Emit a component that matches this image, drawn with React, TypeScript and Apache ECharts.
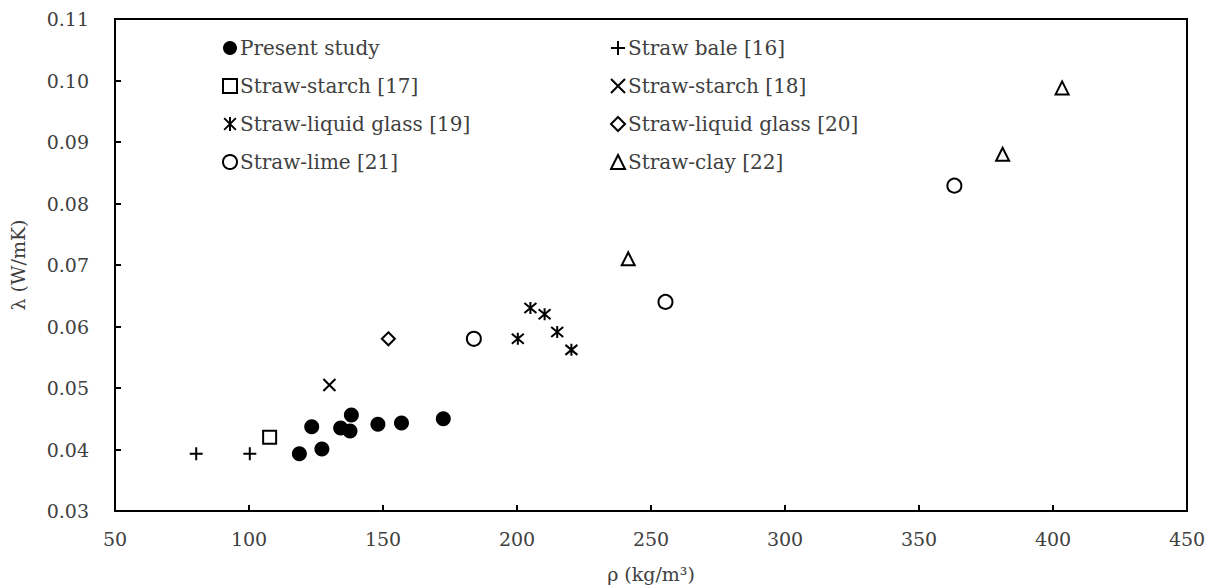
import React, { useEffect, useRef } from "react";
import * as echarts from "echarts";

// ---- data (x: density kg/m3, y: thermal conductivity W/mK) ----
const presentStudy = [
  [118.8, 0.0393], [127.2, 0.0401], [123.4, 0.0437], [134.2, 0.0435], [137.7, 0.043],
  [138.2, 0.0456], [148.1, 0.0441], [156.9, 0.0443], [172.5, 0.045],
];
const strawBale16 = [[80.3, 0.0393], [100.3, 0.0393]];
const strawStarch17 = [[107.7, 0.042]];
const strawStarch18 = [[130.0, 0.0505]];
const liquidGlass19 = [[200.3, 0.058], [205.0, 0.063], [210.3, 0.062], [215.0, 0.0591], [220.3, 0.0562]];
const liquidGlass20 = [[152.0, 0.058]];
const strawLime21 = [[183.9, 0.058], [255.4, 0.064], [363.2, 0.0829]];
const strawClay22 = [[241.5, 0.071], [381.2, 0.088], [403.4, 0.0988]];

const seriesNames = [
  "Present study", "Straw bale [16]", "Straw-starch [17]", "Straw-starch [18]",
  "Straw-liquid glass [19]", "Straw-liquid glass [20]", "Straw-lime [21]", "Straw-clay [22]",
];
const xAxisRange = [50, 450, 50];
const yAxisRange = [0.03, 0.11, 0.01];
const xAxisTitle = "ρ (kg/m³)";
const yAxisTitle = "λ (W/mK)";

const FONT = "DejaVu Serif";
const TEXT = "#404040";

const PLUS = "path://M5,0L5,10M0,5L10,5";
const CROSS = "path://M0,0L10,10M10,0L0,10";
const STAR = "path://M0,0L10,10M10,0L0,10M5,-1L5,11";

export default function App() {
  const ref = useRef<HTMLDivElement>(null);
  useEffect(() => {
    const chart = echarts.init(ref.current!, undefined, { renderer: "svg" });
    const hollow = { color: "#fff", borderColor: "#000", borderWidth: 2, opacity: 1 };
    const stroke = { color: "#000", borderColor: "#000", borderWidth: 2, opacity: 1 };
    const mk = (name: string, data: number[][], symbol: string, size: number, style: any) => ({
      type: "scatter",
      name,
      data,
      symbol,
      symbolSize: size,
      itemStyle: style,
      emphasis: { disabled: true },
    });
    const legendCommon = {
      orient: "vertical",
      itemWidth: 14,
      itemHeight: 14,
      itemGap: 18,
      textStyle: { fontFamily: FONT, fontSize: 20, color: TEXT, padding: [0, 0, 0, -2] },
      selectedMode: false,
    };
    chart.setOption({
      animation: false,
      grid: {
        left: 114, right: 28, top: 19, bottom: 75,
        show: true, borderColor: "#000", borderWidth: 2, backgroundColor: "transparent",
      },
      legend: [
        { ...legendCommon, left: 217, top: 33, data: [seriesNames[0], seriesNames[2], seriesNames[4], seriesNames[6]] },
        { ...legendCommon, left: 605, top: 33, data: [seriesNames[1], seriesNames[3], seriesNames[5], seriesNames[7]] },
      ],
      xAxis: {
        type: "value",
        min: xAxisRange[0], max: xAxisRange[1], interval: xAxisRange[2],
        name: xAxisTitle, nameLocation: "middle", nameGap: 53,
        nameTextStyle: { fontFamily: FONT, fontSize: 19, color: TEXT },
        axisLine: { lineStyle: { color: "#000", width: 2 } },
        axisTick: { inside: true, length: 6, lineStyle: { color: "#000", width: 2 } },
        axisLabel: { fontFamily: FONT, fontSize: 19, color: TEXT, margin: 18 },
        splitLine: { show: false },
      },
      yAxis: {
        type: "value",
        min: yAxisRange[0], max: yAxisRange[1], interval: yAxisRange[2],
        name: yAxisTitle, nameLocation: "middle", nameGap: 88, nameRotate: 90,
        nameTextStyle: { fontFamily: FONT, fontSize: 19, color: TEXT },
        axisLine: { lineStyle: { color: "#000", width: 2 } },
        axisTick: { inside: true, length: 6, lineStyle: { color: "#000", width: 2 } },
        axisLabel: { fontFamily: FONT, fontSize: 19, color: TEXT, margin: 26, formatter: (v: number) => v.toFixed(2) },
        splitLine: { show: false },
      },
      series: [
        mk(seriesNames[0], presentStudy, "circle", 15, { color: "#000", opacity: 1 }),
        mk(seriesNames[1], strawBale16, PLUS, 13, stroke),
        mk(seriesNames[2], strawStarch17, "rect", 13, hollow),
        mk(seriesNames[3], strawStarch18, CROSS, 12, stroke),
        mk(seriesNames[4], liquidGlass19, STAR, 12, stroke),
        mk(seriesNames[5], liquidGlass20, "diamond", 13, hollow),
        mk(seriesNames[6], strawLime21, "circle", 14, hollow),
        mk(seriesNames[7], strawClay22, "triangle", 13, hollow),
      ],
    });
    return () => chart.dispose();
  }, []);
  return <div ref={ref} style={{ position: "absolute", left: 0, top: 0, width: 1215, height: 588 }} />;
}
